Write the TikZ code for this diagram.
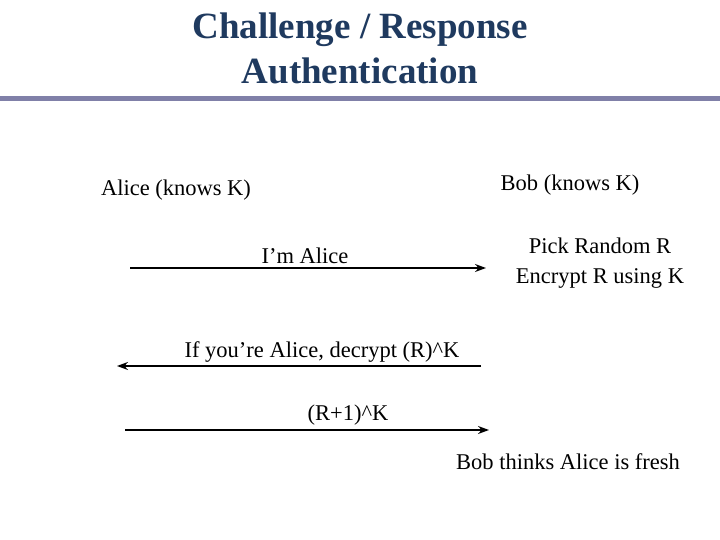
\documentclass[tikz,border=0pt]{standalone}
\usepackage{fontspec}
\setmainfont{Liberation Serif}
\usetikzlibrary{arrows.meta}
\definecolor{ttl}{HTML}{1F3A5F}
\definecolor{rule}{HTML}{8080A8}
\begin{document}
\begin{tikzpicture}[x=1pt,y=-1pt,
 lbl/.style={font=\fontsize{22.5}{30}\selectfont},
 msg/.style={line width=1.3pt,-{Stealth[length=11pt,width=8pt]}}]
\useasboundingbox (0,0) rectangle (720,540);
\node[font=\bfseries\fontsize{37}{45}\selectfont,text=ttl,align=center] (title) at (360,48) {Challenge / Response\\Authentication};
\fill[rule] (0,96) rectangle (720,101);
\node[lbl] (alice) at (176,190) {Alice (knows K)};
\node[lbl] (bob) at (570,185) {Bob (knows K)};
\node[lbl] (m1) at (305,256) {I’m Alice};
\coordinate (a1) at (130,268); \coordinate (b1) at (486,268);
\draw[msg] (a1) -- (b1);
\node[lbl,align=center] (pick) at (600,263) {Pick Random R\\Encrypt R using K};
\node[lbl] (m2) at (322,352) {If you’re Alice, decrypt (R)\^{}K};
\coordinate (a2) at (481,366); \coordinate (b2) at (117,366);
\draw[msg] (a2) -- (b2);
\node[lbl] (m3) at (348,415) {(R+1)\^{}K};
\coordinate (a3) at (125,430); \coordinate (b3) at (489,430);
\draw[msg] (a3) -- (b3);
\node[lbl] (fresh) at (568,462) {Bob thinks Alice is fresh};
\end{tikzpicture}
\end{document}
